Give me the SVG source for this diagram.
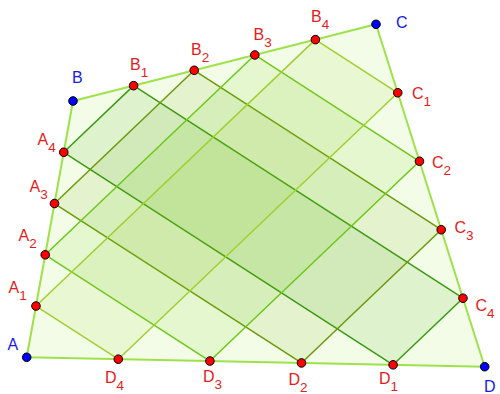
<svg xmlns="http://www.w3.org/2000/svg" width="500" height="394" viewBox="0 0 500 394">
<style>
.outer{fill:#f3fce6;stroke:#9de24a;stroke-width:2;stroke-linejoin:round}
.q{stroke-width:1.5;stroke-linejoin:round;fill-opacity:0.1}
.q1{fill:#339900;stroke:#3a9a12}
.q2{fill:#669900;stroke:#6b9a0a}
.q3{fill:#66cc00;stroke:#6cc81a}
.q4{fill:#99cc33;stroke:#a0d030}
.pr{fill:#ff0000;stroke:#000;stroke-width:1}
.pb{fill:#0000ff;stroke:#000;stroke-width:1}
text{font-family:"Liberation Sans",Arial,sans-serif;font-size:16px}
.lr{fill:#e51c1c}
.lb{fill:#1a1ae6}
.s{font-size:13.5px}
</style>
<g id="polygons">
<polygon class="outer" points="26.7,357.3 73,101 376,24.3 484.7,366.7"/>
<polygon class="q q1" points="63.74,152.26 133.6,85.66 462.96,298.22 393.1,364.82"/>
<polygon class="q q2" points="54.48,203.52 194.2,70.32 441.22,229.74 301.5,362.94"/>
<polygon class="q q3" points="45.22,254.78 254.8,54.98 419.48,161.26 209.9,361.06"/>
<polygon class="q q4" points="35.96,306.04 315.4,39.64 397.74,92.78 118.3,359.18"/>
</g>
<g id="A"><circle class="pb" cx="26.7" cy="357.3" r="4.3"/><text class="lb" x="7.5" y="349.5">A</text></g>
<g id="B"><circle class="pb" cx="73" cy="101" r="4.3"/><text class="lb" x="72" y="83">B</text></g>
<g id="C"><circle class="pb" cx="376" cy="24.3" r="4.3"/><text class="lb" x="396" y="27.5">C</text></g>
<g id="D"><circle class="pb" cx="484.7" cy="366.7" r="4.3"/><text class="lb" x="484" y="391.5">D</text></g>
<g id="A1"><circle class="pr" cx="35.96" cy="306.04" r="4.3"/><text class="lr" x="8.5" y="293">A<tspan class="s" dy="7">1</tspan></text></g>
<g id="A2"><circle class="pr" cx="45.22" cy="254.78" r="4.3"/><text class="lr" x="18.5" y="240.5">A<tspan class="s" dy="7">2</tspan></text></g>
<g id="A3"><circle class="pr" cx="54.48" cy="203.52" r="4.3"/><text class="lr" x="29.5" y="191.5">A<tspan class="s" dy="7">3</tspan></text></g>
<g id="A4"><circle class="pr" cx="63.74" cy="152.26" r="4.3"/><text class="lr" x="37.5" y="144.5">A<tspan class="s" dy="7">4</tspan></text></g>
<g id="B1"><circle class="pr" cx="133.6" cy="85.66" r="4.3"/><text class="lr" x="130" y="69.5">B<tspan class="s" dy="7">1</tspan></text></g>
<g id="B2"><circle class="pr" cx="194.2" cy="70.32" r="4.3"/><text class="lr" x="191" y="55">B<tspan class="s" dy="7">2</tspan></text></g>
<g id="B3"><circle class="pr" cx="254.8" cy="54.98" r="4.3"/><text class="lr" x="253.5" y="39.5">B<tspan class="s" dy="7">3</tspan></text></g>
<g id="B4"><circle class="pr" cx="315.4" cy="39.64" r="4.3"/><text class="lr" x="311" y="22">B<tspan class="s" dy="7">4</tspan></text></g>
<g id="C1"><circle class="pr" cx="397.74" cy="92.78" r="4.3"/><text class="lr" x="412" y="98.5">C<tspan class="s" dy="7">1</tspan></text></g>
<g id="C2"><circle class="pr" cx="419.48" cy="161.26" r="4.3"/><text class="lr" x="432" y="167.5">C<tspan class="s" dy="7">2</tspan></text></g>
<g id="C3"><circle class="pr" cx="441.22" cy="229.74" r="4.3"/><text class="lr" x="454.5" y="232.5">C<tspan class="s" dy="7">3</tspan></text></g>
<g id="C4"><circle class="pr" cx="462.96" cy="298.22" r="4.3"/><text class="lr" x="475.5" y="310.5">C<tspan class="s" dy="7">4</tspan></text></g>
<g id="D1"><circle class="pr" cx="393.1" cy="364.82" r="4.3"/><text class="lr" x="379" y="384">D<tspan class="s" dy="7">1</tspan></text></g>
<g id="D2"><circle class="pr" cx="301.5" cy="362.94" r="4.3"/><text class="lr" x="288.5" y="384.5">D<tspan class="s" dy="7">2</tspan></text></g>
<g id="D3"><circle class="pr" cx="209.9" cy="361.06" r="4.3"/><text class="lr" x="203" y="382">D<tspan class="s" dy="7">3</tspan></text></g>
<g id="D4"><circle class="pr" cx="118.3" cy="359.18" r="4.3"/><text class="lr" x="105" y="382.5">D<tspan class="s" dy="7">4</tspan></text></g>
</svg>
